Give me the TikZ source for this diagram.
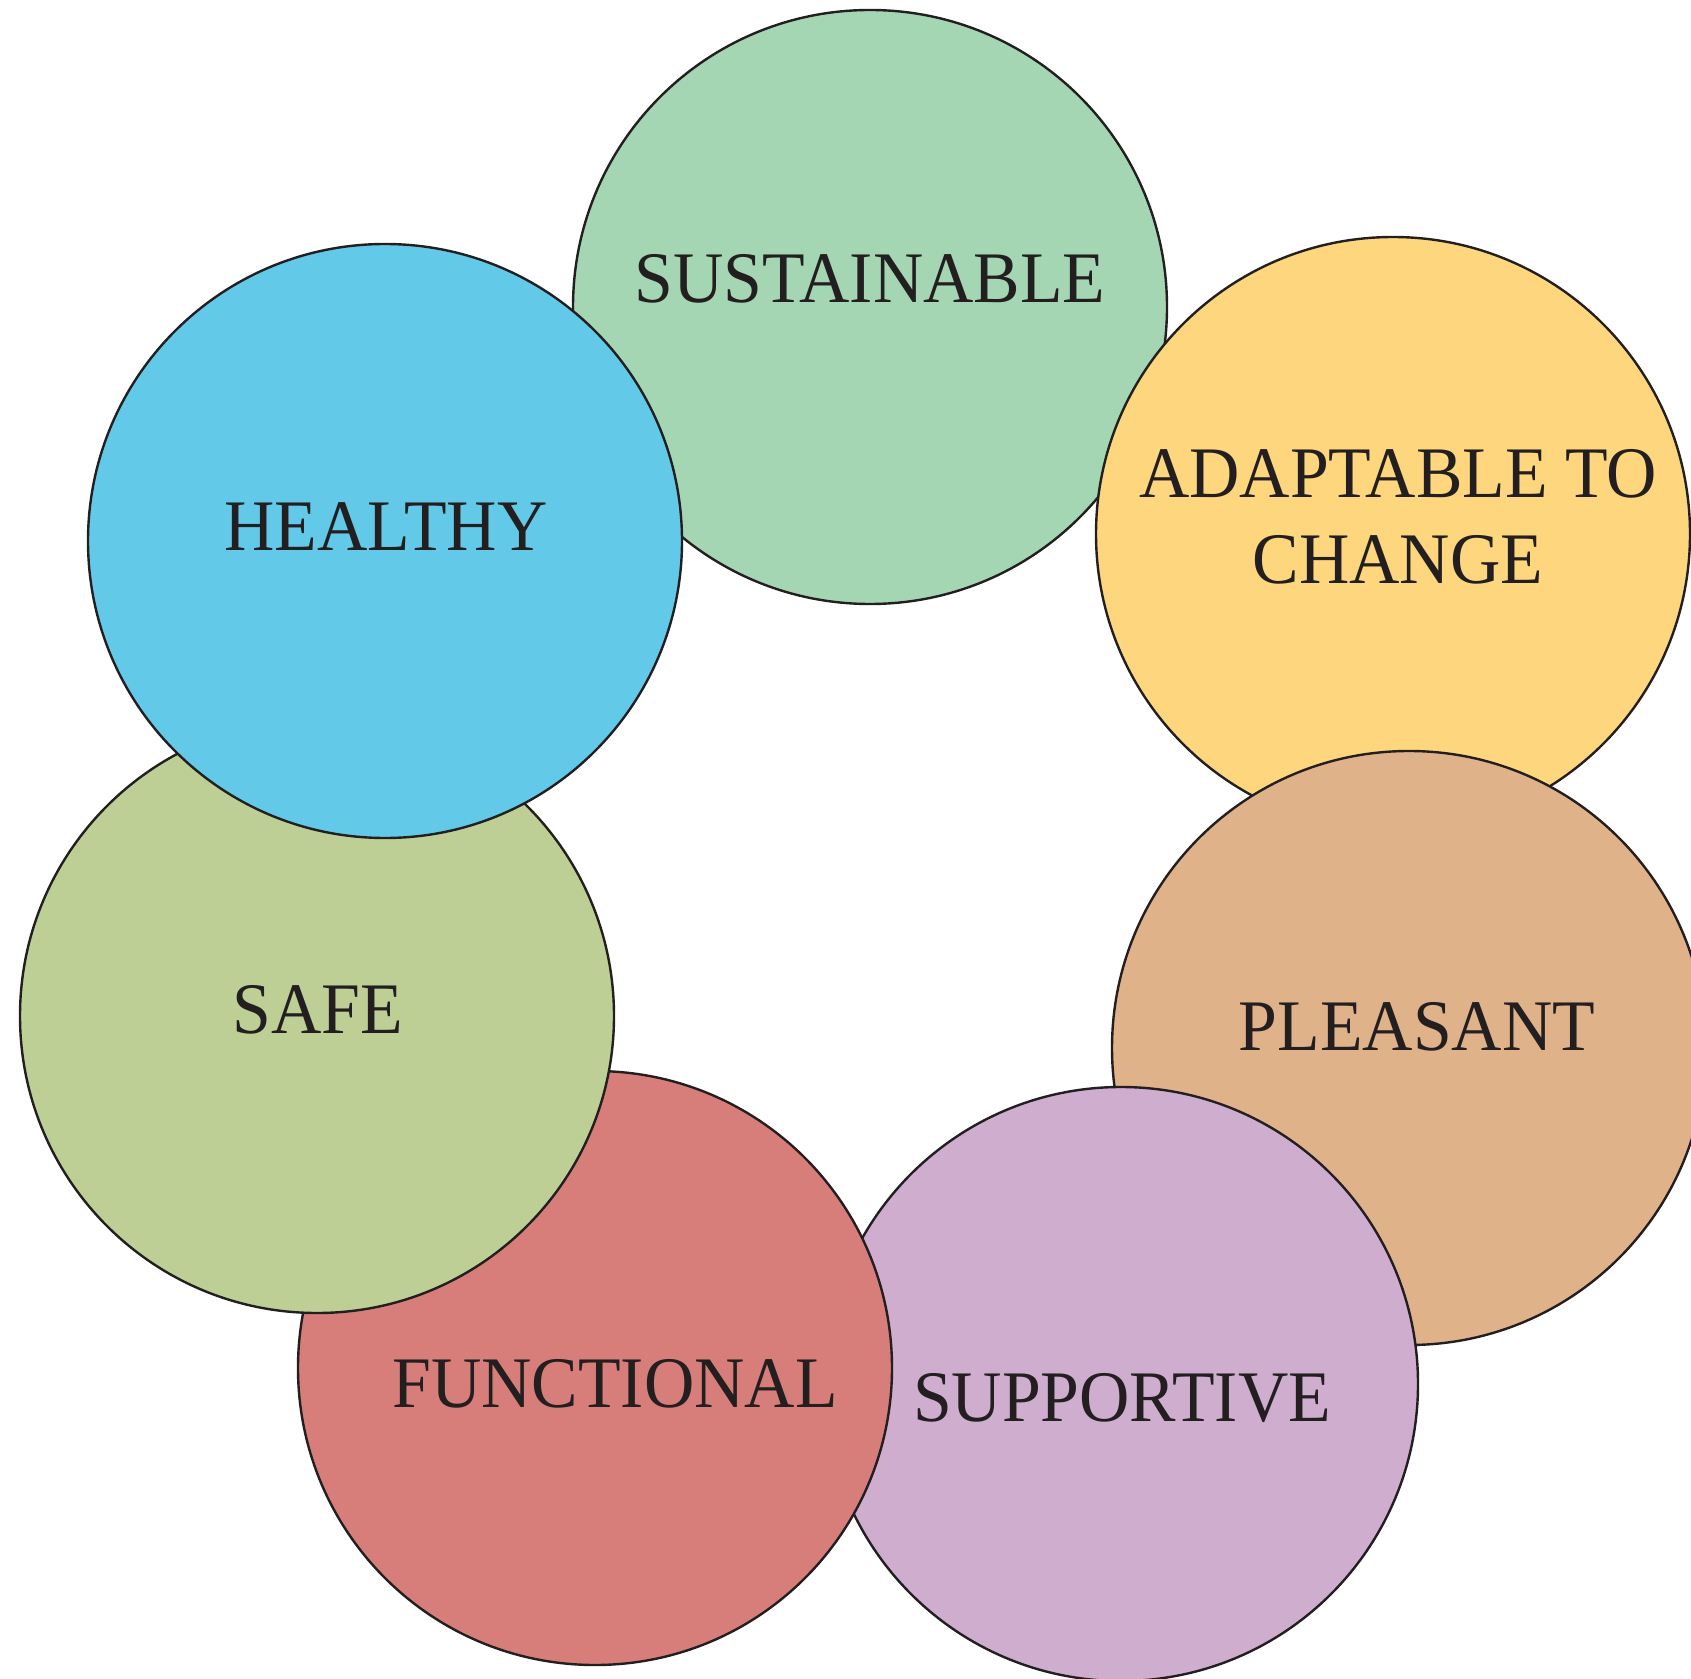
\documentclass[tikz,border=0pt]{standalone}
\usepackage{fontspec}
\newfontfamily\lblfont[FakeStretch=0.96]{Liberation Serif}
\definecolor{ink}{HTML}{231F20}
\definecolor{cSus}{HTML}{A5D6B4}
\definecolor{cHea}{HTML}{62CAE8}
\definecolor{cAda}{HTML}{FDD67E}
\definecolor{cPle}{HTML}{E0B28A}
\definecolor{cSup}{HTML}{CFADCF}
\definecolor{cFun}{HTML}{D77E7A}
\definecolor{cSaf}{HTML}{BDCF95}
\begin{document}
\begin{tikzpicture}[x=0.5pt,y=-0.5pt,
  bubble/.style={circle,draw=ink,line width=1.2pt,minimum size=297pt,inner sep=0pt},
  lbl/.style={text=ink,inner sep=0pt,align=center,font=\lblfont\fontsize{36.3pt}{43pt}\selectfont}]
\useasboundingbox (0,0) rectangle (1691,1679);
\clip (0,0) rectangle (1691,1679);
\node[bubble,fill=cSus] (sus) at (870,307) {};
\node[lbl] (tsus) at (870,279) {SUSTAINABLE};
\node[bubble,fill=cAda] (ada) at (1393,534) {};
\node[lbl] (tada) at (1398,517) {ADAPTABLE TO\\CHANGE};
\node[bubble,fill=cPle] (ple) at (1409,1048) {};
\node[lbl] (tple) at (1417,1027) {PLEASANT};
\node[bubble,fill=cSup] (sup) at (1121,1384) {};
\node[lbl] (tsup) at (1122,1398) {SUPPORTIVE};
\node[bubble,fill=cFun] (fun) at (595,1368) {};
\node[lbl] (tfun) at (615,1384) {FUNCTIONAL};
\node[bubble,fill=cSaf] (saf) at (317,1016) {};
\node[lbl] (tsaf) at (318,1010) {SAFE};
\node[bubble,fill=cHea] (hea) at (385,541) {};
\node[lbl] (thea) at (386,527) {HEALTHY};
\end{tikzpicture}
\end{document}
